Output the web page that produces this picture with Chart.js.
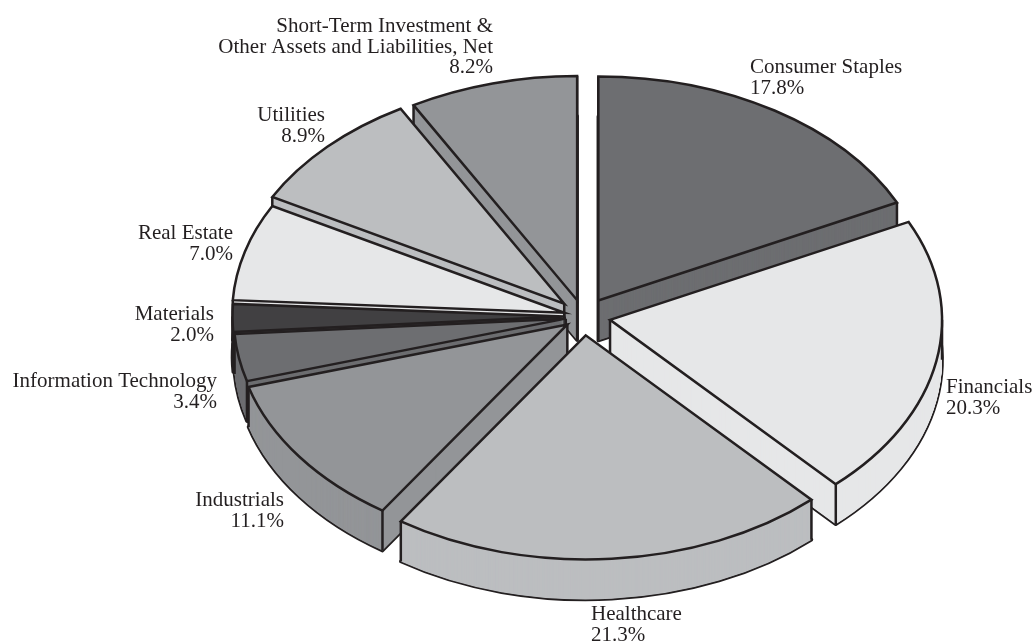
<!DOCTYPE html>
<html>
<head>
<meta charset="utf-8">
<script src="https://cdn.jsdelivr.net/npm/chart.js@4"></script>
<style>
  html, body { margin: 0; padding: 0; background: #fff; }
  canvas { display: block; }
</style>
</head>
<body>
<canvas id="myChart" width="1036" height="641"></canvas>
<script>
const categories = ["Consumer Staples", "Financials", "Healthcare", "Industrials", "Information Technology", "Materials", "Real Estate", "Utilities", "Short-Term Investment &\nOther Assets and Liabilities, Net"];
const values = [17.8, 20.3, 21.3, 11.1, 3.4, 2.0, 7.0, 8.9, 8.2];
const colors = ["#6d6e71", "#e6e7e8", "#bcbec0", "#939598", "#6d6e71", "#414042", "#e6e7e8", "#bcbec0", "#939598"];

// how far each slice is pulled out of the pie, in pixels
const explode = [28, 27, 28, 20, 18, 19, 20, 27, 25];
// back slices get painted first
const paintOrder = [8, 7, 6, 0, 5, 4, 3, 1, 2];
// label anchor: x, y of first line, text align
const labelX = [750, 946, 591, 284, 217, 214, 233, 325, 493];
const labelY = [73, 393, 620, 506, 387, 320, 239, 121, 32];
const labelAlign = ["left", "left", "left", "right", "right", "right", "right", "right", "right"];

const centerX = 583.5, centerY = 316.5;
const radius = 332, squash = 0.675, depth = 40;
const ink = "#231f20";

const ctx = document.getElementById("myChart");

const pie3d = {
  id: "pie3d",
  beforeDatasetsDraw(chart) {
    const c = chart.ctx;
    const arcs = chart.getDatasetMeta(0).data;
    const origStroke = c.stroke;
    let strokeWidth = 2.5; // 0 = fill only
    let join = "miter";

    // strokes are made in screen space so the squash doesn't distort the line
    c.stroke = function () {
      if (!strokeWidth) return;
      c.save();
      c.setTransform(1, 0, 0, 1, 0, 0);
      c.lineWidth = strokeWidth;
      c.lineJoin = join;
      origStroke.call(c);
      c.restore();
    };

    paintOrder.forEach((i) => {
      const arc = arcs[i];
      const mid = (arc.startAngle + arc.endAngle) / 2;
      const ax = centerX + Math.cos(mid) * explode[i];
      const ay = centerY + Math.sin(mid) * explode[i] * squash;
      const sx = radius / arc.outerRadius;

      const drawAt = (dy) => {
        c.save();
        c.translate(ax, ay + dy);
        c.scale(sx, sx * squash);
        c.translate(-arc.x, -arc.y);
        arc.draw(c);
        c.restore();
      };

      // outline of the bottom face, then the body on top of its inner half
      strokeWidth = 3.6;
      join = "round";
      drawAt(depth);
      strokeWidth = 0;
      for (let d = depth; d > 0; d -= 0.5) drawAt(d);

      // vertical edges: both rim ends, the apex and any left/right extreme
      const edges = [[ax, ay]];
      const rimAngles = [arc.startAngle, arc.endAngle];
      for (let k = -2; k <= 2; k++) {
        const a = k * Math.PI;
        if (a > arc.startAngle && a < arc.endAngle) rimAngles.push(a);
      }
      rimAngles.forEach((a) => {
        edges.push([ax + Math.cos(a) * radius, ay + Math.sin(a) * radius * squash]);
      });
      c.beginPath();
      edges.forEach((p) => {
        c.moveTo(p[0], p[1]);
        c.lineTo(p[0], p[1] + depth);
      });
      c.strokeStyle = ink;
      strokeWidth = 2.5;
      join = "miter";
      c.stroke();

      drawAt(0);
    });

    c.stroke = origStroke;
    return false;
  },
  afterDraw(chart) {
    const c = chart.ctx;
    c.save();
    c.font = '21px "Liberation Serif"';
    c.fillStyle = ink;
    c.textBaseline = "alphabetic";
    categories.forEach((name, i) => {
      const lines = name.split("\n").concat(values[i].toFixed(1) + "%");
      c.textAlign = labelAlign[i];
      lines.forEach((line, n) => {
        c.fillText(line, labelX[i], labelY[i] + n * 20.5);
      });
    });
    c.restore();
  },
};

new Chart(ctx, {
  type: "pie",
  data: {
    labels: categories,
    datasets: [
      {
        data: values,
        backgroundColor: colors,
        borderColor: ink,
        borderWidth: 2,
      },
    ],
  },
  options: {
    responsive: false,
    devicePixelRatio: 1,
    animation: false,
    plugins: {
      legend: { display: false },
      tooltip: { enabled: false },
    },
  },
  plugins: [pie3d],
});
</script>
</body>
</html>
